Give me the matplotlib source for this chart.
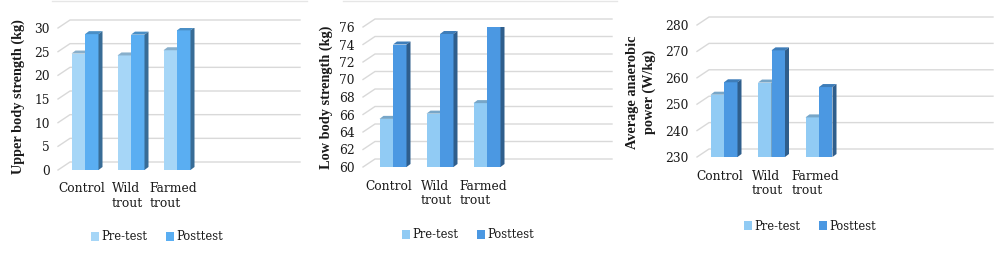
import matplotlib
matplotlib.use('Agg')
import matplotlib.pyplot as plt
from matplotlib.patches import Polygon, Patch
from matplotlib.lines import Line2D

plt.rcParams['font.family'] = ['DejaVu Serif']

categories = ['Control', 'Wild\ntrout', 'Farmed\ntrout']
series = ['Pre-test', 'Posttest']

upper_pre = [24.6, 24.2, 25.3]
upper_post = [28.7, 28.6, 29.5]
low_pre = [65.5, 66.1, 67.3]
low_post = [74.0, 75.2, 76.0]
power_pre = [253.6, 258.2, 245.0]
power_post = [258.3, 270.4, 256.5]

W, H = 1000, 254
fig = plt.figure(figsize=(W / 100, H / 100), dpi=100)

grid_col = '#d9d9d9'
txt = '#1a1a1a'
fs = 8.8


def shade(c, f):
    c = matplotlib.colors.to_rgb(c)
    return tuple(v * f for v in c)


def panel(left, right, top, bottom, centers_px, ylim, yticks, pre, post,
          cols, ylabel, ylabel_xy, leg_xy):
    # pixel box -> figure fraction
    ax = fig.add_axes([left / W, 1 - bottom / H, (right - left) / W, (bottom - top) / H])
    c0, c1, c2 = centers_px
    sp = (c2 - c0) / 2
    xmin = (left - c0) / sp
    xmax = (right - c0) / sp
    ax.set_xlim(xmin, xmax)
    ax.set_ylim(*ylim)
    pxx = sp
    pxy = (bottom - top) / (ylim[1] - ylim[0])

    # back wall gridlines with a slanted left side wall
    gdx, gdy = 12 / pxx, 8 / pxy
    for v in yticks:
        ax.plot([xmin, xmin + gdx, xmax], [v, v + gdy, v + gdy],
                color=grid_col, lw=1.0, clip_on=False, zorder=1)

    bw = 13.5 / pxx
    ddx, ddy = 4 / pxx, 3 / pxy
    for vals, off, col in [(pre, -0.5, cols[0]), (post, 0.5, cols[1])]:
        for i, v in enumerate(vals):
            x0 = i + off * bw - bw / 2
            x1 = x0 + bw
            b = ylim[0]
            ax.add_patch(Polygon([(x0, b), (x1, b), (x1, v), (x0, v)],
                                 closed=True, fc=col, ec='none', zorder=3))
            ax.add_patch(Polygon([(x0, v), (x1, v), (x1 + ddx, v + ddy), (x0 + ddx, v + ddy)],
                                 closed=True, fc=shade(col, 0.82), ec='none', zorder=3))
            ax.add_patch(Polygon([(x1, b), (x1 + ddx, b + ddy), (x1 + ddx, v + ddy), (x1, v)],
                                 closed=True, fc=shade(col, 0.62), ec='none', zorder=3))

    for s in ax.spines.values():
        s.set_visible(False)
    ax.set_yticks(yticks)
    ax.set_yticklabels([str(t) for t in yticks], fontsize=fs)
    ax.tick_params(axis='y', length=0, pad=6, colors=txt)
    ax.set_xticks([i - 0.08 for i in range(len(categories))])
    ax.set_xticklabels(categories, fontsize=fs, multialignment='left', linespacing=1.15)
    ax.tick_params(axis='x', length=0, pad=9, colors=txt)

    fig.text(ylabel_xy[0] / W, 1 - ylabel_xy[1] / H, ylabel, rotation=90,
             ha='center', va='center', fontsize=10.3, fontweight='bold',
             family='Liberation Serif', color=txt, linespacing=1.35)

    handles = [Patch(fc=cols[0], ec='none'), Patch(fc=cols[1], ec='none')]
    fig.legend(handles, series, loc='center', ncol=2, frameon=False,
               bbox_to_anchor=(leg_xy[0] / W, 1 - leg_xy[1] / H),
               fontsize=8.3, handlelength=0.7, handleheight=0.7,
               handletextpad=0.2, columnspacing=1.6, labelcolor=txt)
    return ax


panel(58, 300, 28, 170, (85, 131, 177), (0, 30), [0, 5, 10, 15, 20, 25, 30],
      upper_pre, upper_post, ('#a6d6f7', '#5aaef2'),
      'Upper body strength (kg)', (18, 97), (157, 237))

panel(363, 612, 27, 167, (393, 440, 487), (60, 76), [60, 62, 64, 66, 68, 70, 72, 74, 76],
      low_pre, low_post, ('#91cbf4', '#4b98e2'),
      'Low body strength (kg)', (326, 97), (468, 235))

panel(697, 993, 25, 157, (724, 772, 819), (230, 280), [230, 240, 250, 260, 270, 280],
      power_pre, power_post, ('#91cbf4', '#4b98e2'),
      'Average anaerobic\npower (W/kg)', (641, 92), (810, 226))

# faint top borders
for x0, x1 in [(52, 307), (343, 617)]:
    fig.add_artist(Line2D([x0 / W, x1 / W], [1 - 1 / H, 1 - 1 / H], color='#e6e6e6', lw=1))

fig.savefig('out.png', dpi=100, facecolor='white')
